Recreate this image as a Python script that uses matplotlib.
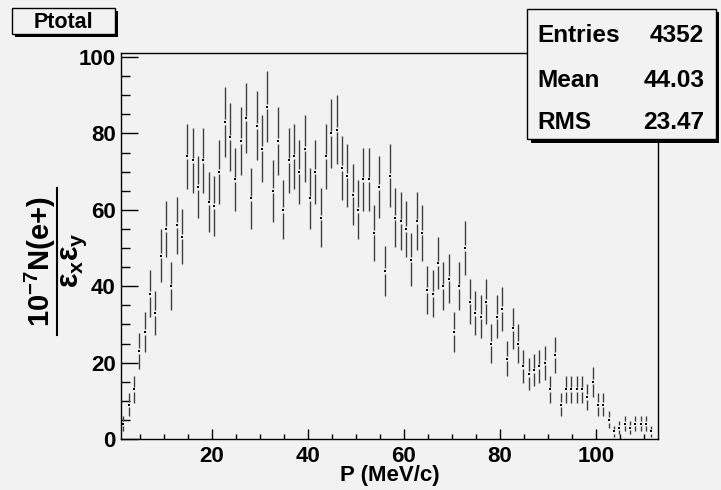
import numpy as np
import matplotlib
matplotlib.use('Agg')
import matplotlib.pyplot as plt
from matplotlib.ticker import MultipleLocator
from matplotlib.patches import Rectangle
from matplotlib.lines import Line2D

# histogram contents (entries per bin)
counts = [4, 9, 13, 23, 28, 38, 33, 48, 55, 40, 56, 53, 74, 73, 66, 73, 62, 61, 70, 83,
          79, 68, 78, 84, 63, 82, 76, 87, 65, 78, 60, 73, 74, 70, 76, 63, 70, 58, 74, 80,
          81, 71, 69, 64, 60, 68, 68, 54, 66, 44, 69, 58, 57, 55, 47, 57, 54, 39, 38, 46,
          40, 42, 28, 40, 50, 36, 33, 32, 36, 25, 32, 34, 21, 29, 25, 19, 17, 18, 19, 20,
          13, 22, 9, 13, 13, 13, 13, 11, 15, 9, 9, 5, 2, 3, 4, 3, 4, 4, 4, 2]
bin_lo = 1.0
bin_w = 1.111
title = 'Ptotal'
stats = [('Entries', '4352'), ('Mean', '44.03'), ('RMS', '23.47')]

counts = np.array(counts, dtype=float)
centers = bin_lo + bin_w * (np.arange(len(counts)) + 0.5)
errs = np.sqrt(counts)

plt.rcParams['font.family'] = ['Liberation Sans', 'DejaVu Sans']
plt.rcParams['font.weight'] = 'bold'
plt.rcParams['mathtext.fontset'] = 'custom'
plt.rcParams['mathtext.rm'] = 'Liberation Sans:bold'
plt.rcParams['mathtext.it'] = 'Liberation Sans:bold'
plt.rcParams['mathtext.bf'] = 'Liberation Sans:bold'

bg = '#f2f2f2'
fig = plt.figure(figsize=(7.21, 4.9), dpi=100, facecolor=bg)
ax = fig.add_axes([120.7/721, 1-439/490, (658.3-120.7)/721, (439-53.3)/490])
ax.set_facecolor(bg)

# error bars broken around the marker, ROOT style
gap = 0.7
ax.vlines(centers, counts - errs, counts - gap, color='#404040', lw=1)
ax.vlines(centers, counts + gap, counts + errs, color='#404040', lw=1)
ax.plot(centers, counts, 's', ms=1.9, color='k', mew=0)

ax.set_xlim(1, 113)
ax.set_ylim(0, 101)
ax.xaxis.set_major_locator(MultipleLocator(20))
ax.xaxis.set_minor_locator(MultipleLocator(5))
ax.yaxis.set_major_locator(MultipleLocator(20))
ax.yaxis.set_minor_locator(MultipleLocator(5))
ax.tick_params(which='both', direction='in', top=False, right=False, width=1, color='k')
ax.tick_params(axis='x', which='major', length=7.5, pad=5, labelsize=16)
ax.tick_params(axis='x', which='minor', length=3.8)
ax.tick_params(axis='y', which='major', length=12.5, pad=3.5, labelsize=16)
ax.tick_params(axis='y', which='minor', length=6.3)
ax.xaxis.set_major_formatter(lambda v, p: '' if v < 1 else '%d' % v)
for lab in ax.get_xticklabels() + ax.get_yticklabels():
    lab.set_fontweight('bold')
for s in ax.spines.values():
    s.set_linewidth(1)

fig.text(390/721, 1-481/490, 'P (MeV/c)', ha='center', va='baseline', fontsize=16, fontweight='bold')

# y title as a fraction
fig.text(40/721, 1-262/490, r'10$^{-7}$N(e+)', rotation=90, ha='center', va='center', fontsize=21)
fig.add_artist(Line2D([57/721, 57/721], [1-335/490, 1-188/490], color='k', lw=1.5, transform=fig.transFigure))
fig.text(74/721, 1-260/490, r'$\varepsilon_{x}\varepsilon_{y}$', rotation=90, ha='center', va='center', fontsize=22)

# title box with shadow
fig.add_artist(Rectangle((14.5/721, 1-37/490), 103.3/721, 26/490, transform=fig.transFigure,
                         facecolor='k', edgecolor='k', lw=0))
fig.add_artist(Rectangle((11.7/721, 1-34.3/490), 103.3/721, 26/490, transform=fig.transFigure,
                         facecolor=bg, edgecolor='k', lw=1))
fig.text(63.3/721, 1-27.5/490, title, ha='center', va='baseline', fontsize=15.5, fontweight='bold')

# stats box with shadow
fig.add_artist(Rectangle((530.5/721, 1-142.5/490), 188.7/721, 130/490, transform=fig.transFigure,
                         facecolor='k', edgecolor='k', lw=0))
fig.add_artist(Rectangle((527.3/721, 1-139.3/490), 188.7/721, 130/490, transform=fig.transFigure,
                         facecolor=bg, edgecolor='k', lw=1))
for (name, val), yb in zip(stats, [41.7, 86.7, 129.3]):
    fig.text(537.3/721, 1-yb/490, name, ha='left', va='baseline', fontsize=17.6, fontweight='bold')
    fig.text(704.3/721, 1-yb/490, val, ha='right', va='baseline', fontsize=17.6, fontweight='bold')

fig.savefig('out.png', dpi=100, facecolor=bg)
